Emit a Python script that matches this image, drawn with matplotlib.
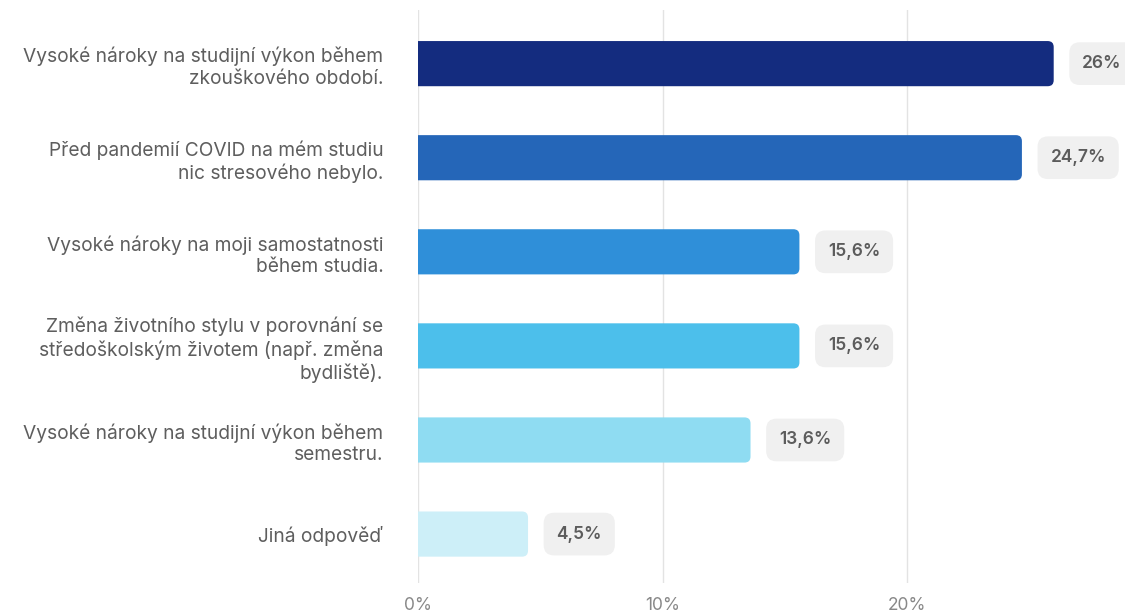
import matplotlib
matplotlib.use('Agg')
import matplotlib.pyplot as plt
from matplotlib.patches import FancyBboxPatch

# Odpovědi a jejich podíly (%)
labels = [
    'Vysoké nároky na studijní výkon během\nzkouškového období.',
    'Před pandemií COVID na mém studiu\nnic stresového nebylo.',
    'Vysoké nároky na moji samostatnosti\nběhem studia.',
    'Změna životního stylu v porovnání se\nstředoškolským životem (např. změna\nbydliště).',
    'Vysoké nároky na studijní výkon během\nsemestru.',
    'Jiná odpověď',
]
values = [26.0, 24.7, 15.6, 15.6, 13.6, 4.5]
value_labels = ['26%', '24,7%', '15,6%', '15,6%', '13,6%', '4,5%']
colors = ['#142c7f', '#2566b8', '#2f8fd9', '#4cbfeb', '#8fdcf2', '#cdeff8']
ticks = [0, 10, 20]
tick_labels = ['0%', '10%', '20%']

plt.rcParams['font.family'] = ['Inter', 'DejaVu Sans']

fig = plt.figure(figsize=(11.25, 6.16), dpi=100)
ax = fig.add_axes([418 / 1125, 1 - 583 / 616, 1 - 418 / 1125, (583 - 10) / 616])
ax.set_xlim(0, (1125 - 418) / 24.45)
ax.set_ylim(5.52, -0.57)

ypos = list(range(len(values)))
bar_h = 0.48
bars = ax.barh(ypos, values, height=bar_h, color=colors)

# rounded corners: replace each bar with a rounded patch of the same extent
px_x = 24.45
px_y = 94.0
aspect = px_x / px_y
for b, c in zip(bars, colors):
    x0, y0 = b.get_x(), b.get_y()
    w, h = b.get_width(), b.get_height()
    b.set_visible(False)
    r = 6 / px_x
    p = FancyBboxPatch((x0 - 1, y0), w + 1, h,
                       boxstyle=f'round,pad=0,rounding_size={r}',
                       mutation_aspect=aspect, facecolor=c, edgecolor='none',
                       zorder=3)
    ax.add_patch(p)

for y, v, t in zip(ypos, values, value_labels):
    ax.annotate(t, xy=(v, y), xytext=(20.5, 0), textcoords='offset points',
                ha='left', va='center', fontsize=12.5, color='#5c5c5c',
                fontweight='semibold', zorder=4, annotation_clip=False,
                bbox=dict(boxstyle='round,pad=0.74,rounding_size=0.6',
                          facecolor='#f0f0f0', edgecolor='none'))

ax.set_yticks(ypos)
ax.set_yticklabels(labels, fontsize=13.8, color='#5e5e5e', ha='right',
                   linespacing=1.25)
ax.tick_params(axis='y', length=0, pad=25)
ax.set_xticks(ticks)
ax.set_xticklabels(tick_labels, fontsize=12.5, color='#888888')
ax.tick_params(axis='x', length=0, pad=10)

ax.grid(axis='x', color='#e3e3e3', linewidth=1)
ax.set_axisbelow(True)
for s in ax.spines.values():
    s.set_visible(False)

fig.savefig('out.png', dpi=100, facecolor='white')
